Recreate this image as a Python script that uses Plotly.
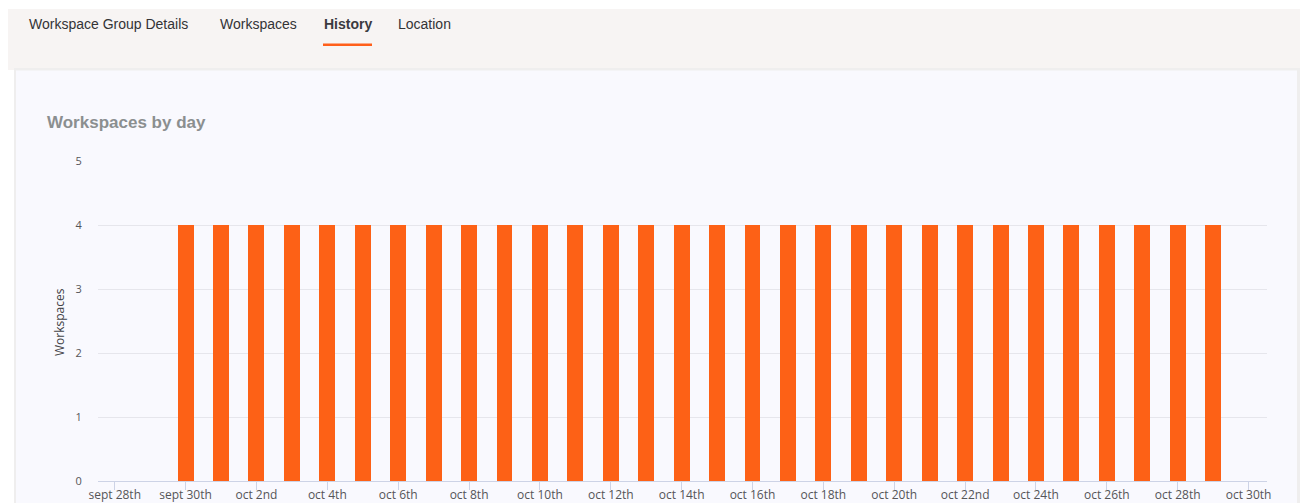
import plotly.graph_objects as go
import pandas as pd

# Daily workspace counts
days = pd.date_range("2023-09-30", "2023-10-29", freq="D")
workspaces = [4] * len(days)

# Axis tick positions and their labels
tick_days = pd.date_range("2023-09-28", "2023-10-30", freq="2D")
tick_labels = ["sept 28th", "sept 30th", "oct 2nd", "oct 4th", "oct 6th", "oct 8th",
               "oct 10th", "oct 12th", "oct 14th", "oct 16th", "oct 18th", "oct 20th",
               "oct 22nd", "oct 24th", "oct 26th", "oct 28th", "oct 30th"]

tabs = ["Workspace Group Details", "Workspaces", "History", "Location"]
active_tab = "History"

W, H = 1300, 503
ML, MR, MT, MB = 98, 33, 161, 22
PW, PH = W - ML - MR, H - MT - MB


def px(x):
    return (x - ML) / PW


def py(y):
    return (H - MB - y) / PH


ORANGE = "#fd6116"
DAY_MS = 86400000

fig = go.Figure()
fig.add_trace(go.Bar(
    x=days, y=workspaces,
    width=0.45 * DAY_MS,
    marker=dict(color=ORANGE, line=dict(width=0)),
    hoverinfo="x+y",
))

shapes = [
    # tab band
    dict(type="rect", xref="paper", yref="paper", x0=px(8), x1=px(1300), y0=py(70), y1=py(9),
         fillcolor="#f7f4f3", line=dict(width=0), layer="below"),
    # card shadow
    dict(type="rect", xref="paper", yref="paper", x0=px(14), x1=px(1300), y0=py(505), y1=py(68),
         fillcolor="#efeeee", line=dict(width=0), layer="below"),
    # card
    dict(type="rect", xref="paper", yref="paper", x0=px(16), x1=px(1297), y0=py(505), y1=py(70.5),
         fillcolor="#f9f9fe", line=dict(width=0), layer="below"),
    # active tab underline
    dict(type="rect", xref="paper", yref="paper", x0=px(323), x1=px(372), y0=py(46), y1=py(43.5),
         fillcolor="#ff5f1a", line=dict(width=0), layer="above"),
]

annotations = []
tab_x = [27, 218, 322, 396]
for name, x in zip(tabs, tab_x):
    bold = name == active_tab
    annotations.append(dict(
        text=f"<b>{name}</b>" if bold else name,
        xref="paper", yref="paper", x=px(x), y=py(23.5),
        xanchor="left", yanchor="middle", showarrow=False,
        font=dict(family="Liberation Sans, Arial, sans-serif", size=14,
                  color="#3a3a3f" if bold else "#333336"),
    ))

annotations.append(dict(
    text="<b>Workspaces by day</b>", xref="paper", yref="paper",
    x=px(45), y=py(122), xanchor="left", yanchor="middle", showarrow=False,
    font=dict(family="Liberation Sans, Arial, sans-serif", size=17, color="#8b8f90"),
))
annotations.append(dict(
    text="Workspaces", xref="paper", yref="paper",
    x=px(59), y=py(322), xanchor="center", yanchor="middle", showarrow=False,
    textangle=-90,
    font=dict(family="Open Sans, sans-serif", size=12, color="#444448"),
))

fig.update_layout(
    width=W, height=H, autosize=False,
    margin=dict(l=ML, r=MR, t=MT, b=MB, autoexpand=False),
    paper_bgcolor="#ffffff",
    plot_bgcolor="rgba(0,0,0,0)",
    showlegend=False,
    bargap=0,
    shapes=shapes,
    annotations=annotations,
    xaxis=dict(
        type="date", automargin=False,
        range=[pd.Timestamp("2023-09-27 12:40"), pd.Timestamp("2023-10-30 12:30")],
        tickvals=tick_days, ticktext=tick_labels,
        showgrid=False, zeroline=False,
        showline=True, linecolor="#cdd3e6", linewidth=1,
        ticks="outside", ticklen=8, tickcolor="#cdd3e6", tickwidth=1,
        ticklabelstandoff=-5,
        tickfont=dict(family="Open Sans, sans-serif", size=12, color="#555558"),
        fixedrange=True,
    ),
    yaxis=dict(
        automargin=False,
        range=[0, 5], tickvals=[0, 1, 2, 3, 4, 5],
        showgrid=True, gridcolor="#e6e6ec", gridwidth=1,
        zeroline=False, showline=False,
        ticks="outside", ticklen=13, tickcolor="rgba(0,0,0,0)",
        tickfont=dict(family="Open Sans, sans-serif", size=11, color="#555558"),
        fixedrange=True,
    ),
)

fig.write_html("out.html")
